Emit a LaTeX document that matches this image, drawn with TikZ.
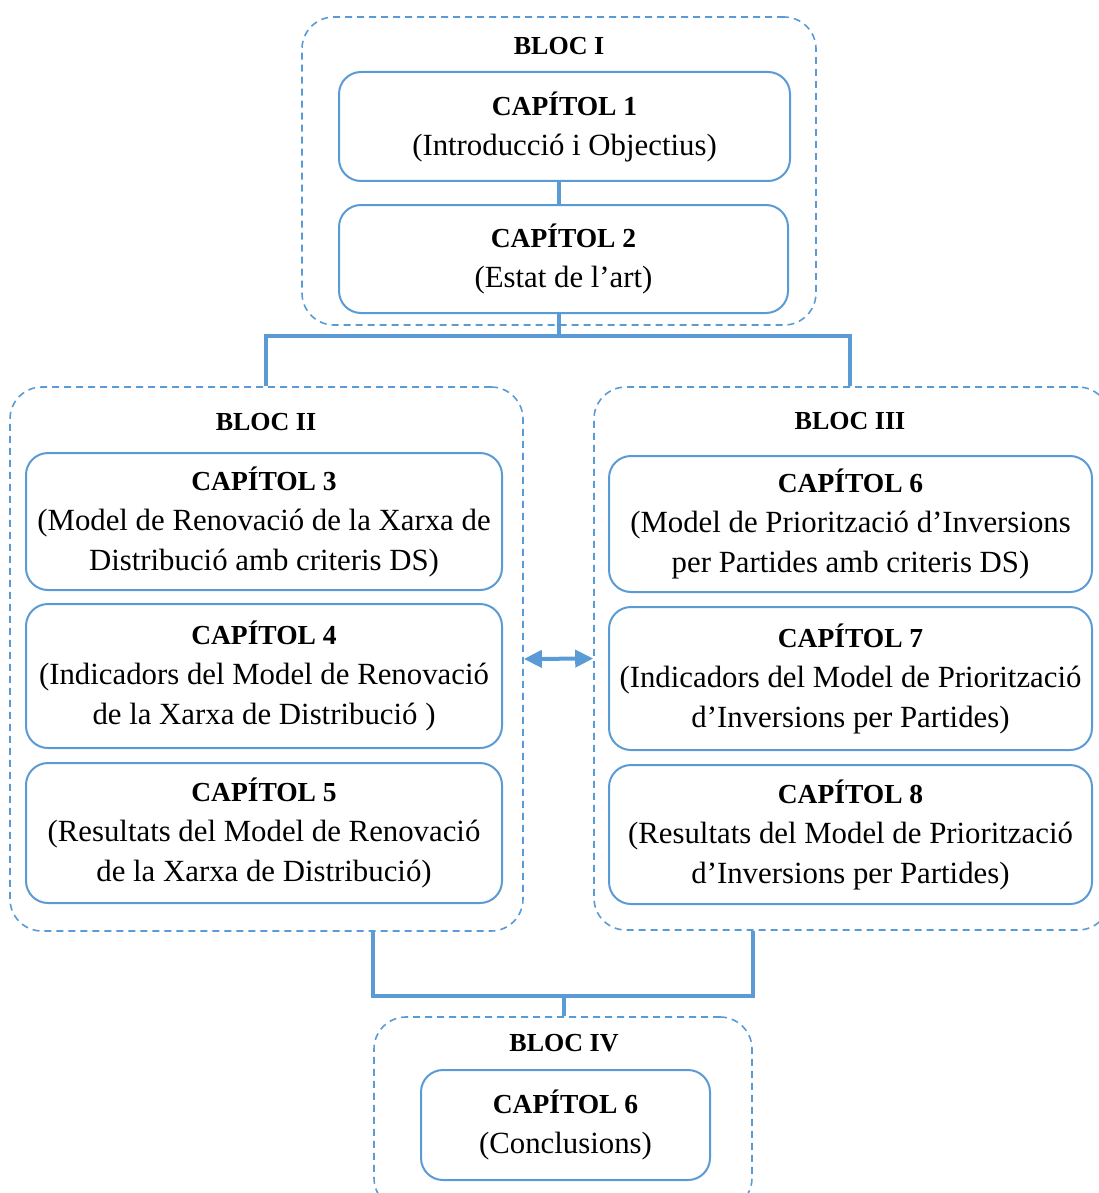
\documentclass[tikz,border=0pt]{standalone}
\usepackage{fontspec}
\setmainfont{Liberation Serif}
\usetikzlibrary{arrows.meta}
\definecolor{myblue}{HTML}{5B9BD5}
\newcommand{\chead}[1]{{\fontsize{27.5}{40}\selectfont\bfseries #1}}
\begin{document}
\begin{tikzpicture}[x=1pt,y=-1pt,
  chap/.style={draw=myblue, line width=2pt, rounded corners=22pt, align=center, inner sep=0pt, font=\fontsize{30.8}{40}\selectfont},
  bloc/.style={draw=myblue, line width=1.6pt, dash pattern=on 7pt off 5pt, rounded corners=32pt, inner sep=0pt},
  btitle/.style={font=\fontsize{26}{30}\selectfont\bfseries, inner sep=0pt},
  conn/.style={draw=myblue, line width=3.5pt},
  twoway/.style={draw=myblue, line width=4pt, arrows={Triangle[length=18pt,width=17pt]-Triangle[length=18pt,width=17pt]}}]
\useasboundingbox (0,0) rectangle (1099,1193);
\begin{scope}
\clip (0,0) rectangle (1099,1193);
% blocs
\node[bloc, minimum width=514pt, minimum height=308pt] (b1) at (559,171) {};
\node[bloc, minimum width=513pt, minimum height=544pt] (b2) at (266.5,659) {};
\node[bloc, minimum width=516pt, minimum height=543pt] (b3) at (852,658.5) {};
\node[bloc, minimum width=378pt, minimum height=193pt] (b4) at (563,1113.5) {};
\end{scope}
\node[btitle] (t1) at (559,46) {BLOC I};
\node[btitle] (t2) at (266,422) {BLOC II};
\node[btitle] (t3) at (850,421) {BLOC III};
\node[btitle] (t4) at (564,1043) {BLOC IV};
% chapters
\node[chap, minimum width=451pt, minimum height=109pt] (c1) at (564.5,126.5) {\chead{CAPÍTOL 1}\\(Introducció i Objectius)};
\node[chap, minimum width=449pt, minimum height=108pt] (c2) at (563.5,259) {\chead{CAPÍTOL 2}\\(Estat de l’art)};
\node[chap, minimum width=476pt, minimum height=137pt] (c3) at (264,521.5) {\chead{CAPÍTOL 3}\\(Model de Renovació de la Xarxa de\\Distribució amb criteris DS)};
\node[chap, minimum width=476pt, minimum height=144pt] (c4) at (264,676) {\chead{CAPÍTOL 4}\\(Indicadors del Model de Renovació\\de la Xarxa de Distribució )};
\node[chap, minimum width=476pt, minimum height=140pt] (c5) at (264,833) {\chead{CAPÍTOL 5}\\(Resultats del Model de Renovació\\de la Xarxa de Distribució)};
\node[chap, minimum width=483pt, minimum height=136pt] (c6) at (850.5,524) {\chead{CAPÍTOL 6}\\(Model de Priorització d’Inversions\\per Partides amb criteris DS)};
\node[chap, minimum width=483pt, minimum height=143pt] (c7) at (850.5,678.5) {\chead{CAPÍTOL 7}\\(Indicadors del Model de Priorització\\d’Inversions per Partides)};
\node[chap, minimum width=483pt, minimum height=139pt] (c8) at (850.5,834.5) {\chead{CAPÍTOL 8}\\(Resultats del Model de Priorització\\d’Inversions per Partides)};
\node[chap, minimum width=289pt, minimum height=110pt] (c9) at (565.5,1125) {\chead{CAPÍTOL 6}\\(Conclusions)};
% connectors
\coordinate (j1) at (559,336);
\coordinate (j2) at (564,996);
\draw[conn] (c1.south -| b1.center) -- (c2.north -| b1.center);
\draw[conn] (c2.south -| j1) -- (j1);
\draw[conn] (t2 |- b2.north) |- (j1) -| (t3 |- b3.north);
\draw[conn] (b2.south -| b4.west) |- (j2) -| (b3.south -| b4.east);
\draw[conn] (j2) -- (b4.north -| j2);
\draw[twoway] (b2.east) -- (b3.west);
\end{tikzpicture}
\end{document}
